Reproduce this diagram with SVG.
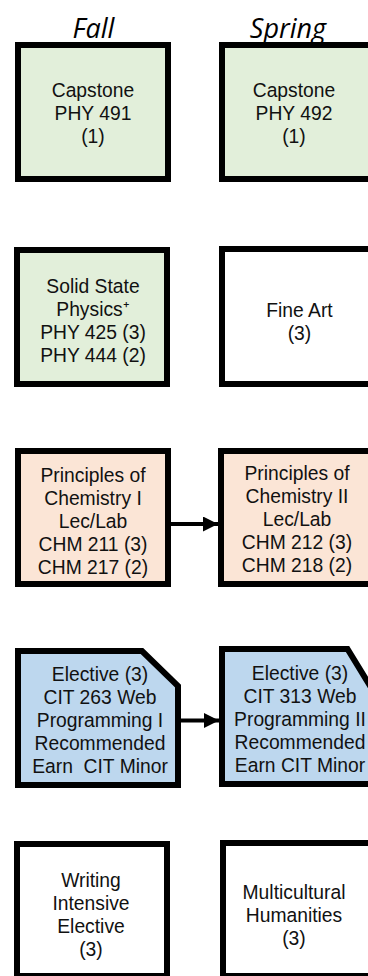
<svg xmlns="http://www.w3.org/2000/svg" width="368" height="976" viewBox="0 0 368 976">
<defs>
<style>
.hdr{font-family:"Open Sans","Liberation Sans",sans-serif;font-style:italic;font-size:27px;fill:#000;text-anchor:middle}
.t{font-family:"Liberation Sans",Arial,sans-serif;font-size:19.3px;fill:#111;text-anchor:middle}
.box{stroke:#000;stroke-width:6;stroke-linejoin:miter}
.green{fill:#E2EFDA}
.white{fill:#FFFFFF}
.peach{fill:#FBE5D6}
.blue{fill:#BDD7EE}
.conn{stroke:#000;stroke-width:4;fill:none}
</style>
<marker id="ah" markerUnits="userSpaceOnUse" markerWidth="16" markerHeight="16" refX="15" refY="7.5" orient="auto">
<path d="M0,0 L15,7.5 L0,15 Z" fill="#000"/>
</marker>
</defs>
<rect width="368" height="976" fill="#fff"/>
<g id="headers">
<text class="hdr" x="93.5" y="38">Fall</text>
<text class="hdr" x="288" y="38">Spring</text>
</g>
<g id="capstone-fall">
<rect class="box green" x="18" y="45" width="150" height="134"/>
<text class="t" x="93" y="97">Capstone</text>
<text class="t" x="93" y="120">PHY 491</text>
<text class="t" x="93" y="143">(1)</text>
</g>
<g id="capstone-spring">
<rect class="box green" x="222" y="45" width="150" height="134"/>
<text class="t" x="294" y="97">Capstone</text>
<text class="t" x="294" y="120">PHY 492</text>
<text class="t" x="294" y="143">(1)</text>
</g>
<g id="solid-state">
<rect class="box green" x="17" y="250" width="150" height="134"/>
<text class="t" x="93" y="293">Solid State</text>
<text class="t" x="93" y="316">Physics⁺</text>
<text class="t" x="93" y="339">PHY 425 (3)</text>
<text class="t" x="93" y="362">PHY 444 (2)</text>
</g>
<g id="fine-art">
<rect class="box white" x="222" y="249" width="155" height="135"/>
<text class="t" x="299.5" y="317">Fine Art</text>
<text class="t" x="299.5" y="340">(3)</text>
</g>
<g id="chem-1">
<rect class="box peach" x="18" y="451" width="150" height="133"/>
<text class="t" x="93" y="482">Principles of</text>
<text class="t" x="93" y="505">Chemistry I</text>
<text class="t" x="93" y="528">Lec/Lab</text>
<text class="t" x="93" y="551">CHM 211 (3)</text>
<text class="t" x="93" y="574">CHM 217 (2)</text>
</g>
<g id="chem-2">
<rect class="box peach" x="221" y="451" width="152" height="133"/>
<text class="t" x="297" y="480">Principles of</text>
<text class="t" x="297" y="503">Chemistry II</text>
<text class="t" x="297" y="526">Lec/Lab</text>
<text class="t" x="297" y="549">CHM 212 (3)</text>
<text class="t" x="297" y="572">CHM 218 (2)</text>
</g>
<g id="cit-263">
<path class="box blue" d="M18,651 H142 L178,686 V785 H18 Z"/>
<text class="t" x="100" y="681">Elective (3)</text>
<text class="t" x="100" y="704">CIT 263 Web</text>
<text class="t" x="100" y="727">Programming I</text>
<text class="t" x="100" y="750">Recommended</text>
<text class="t" x="100" y="773" style="white-space:pre">Earn  CIT Minor</text>
</g>
<g id="cit-313">
<path class="box blue" d="M222,649 H347.5 L372,689 V784 H222 Z"/>
<text class="t" x="300" y="680">Elective (3)</text>
<text class="t" x="300" y="703">CIT 313 Web</text>
<text class="t" x="300" y="726">Programming II</text>
<text class="t" x="300" y="749">Recommended</text>
<text class="t" x="300" y="772">Earn CIT Minor</text>
</g>
<g id="writing">
<rect class="box white" x="17" y="844" width="150" height="132"/>
<text class="t" x="91" y="887">Writing</text>
<text class="t" x="91" y="910">Intensive</text>
<text class="t" x="91" y="933">Elective</text>
<text class="t" x="91" y="956">(3)</text>
</g>
<g id="multicultural">
<rect class="box white" x="223" y="843" width="150" height="133"/>
<text class="t" x="294" y="899">Multicultural</text>
<text class="t" x="294" y="922">Humanities</text>
<text class="t" x="294" y="945">(3)</text>
</g>
<g id="connectors">
<line class="conn" x1="171" y1="524" x2="218" y2="524" marker-end="url(#ah)"/>
<line class="conn" x1="181" y1="720.5" x2="219" y2="720.5" marker-end="url(#ah)"/>
</g>
</svg>
